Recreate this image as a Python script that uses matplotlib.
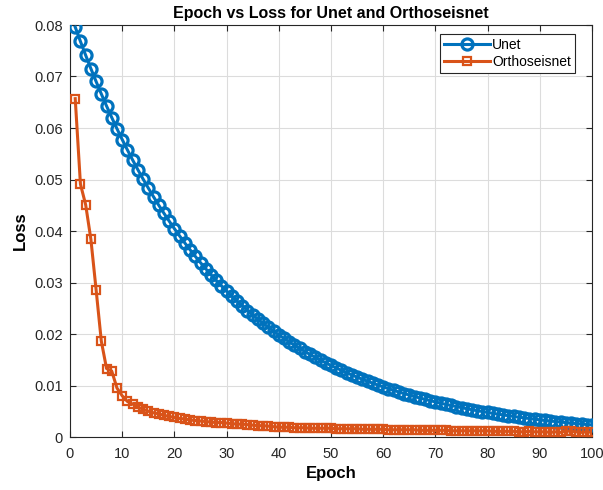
import numpy as np
import matplotlib
matplotlib.use("Agg")
import matplotlib.pyplot as plt

plt.rcParams['font.family'] = ['Liberation Sans', 'DejaVu Sans']

# training loss per epoch
epochs = list(range(1, 101))

unet_loss = [
    0.07960, 0.07681, 0.07413, 0.07153, 0.06903, 0.06661, 0.06428, 0.06203, 0.05986, 0.05776,
    0.05574, 0.05379, 0.05191, 0.05009, 0.04834, 0.04665, 0.04501, 0.04344, 0.04192, 0.04045,
    0.03904, 0.03767, 0.03635, 0.03508, 0.03385, 0.03267, 0.03152, 0.03042, 0.02935, 0.02833,
    0.02734, 0.02638, 0.02546, 0.02456, 0.02371, 0.02288, 0.02207, 0.02130, 0.02056, 0.01984,
    0.01914, 0.01847, 0.01783, 0.01720, 0.01660, 0.01602, 0.01546, 0.01492, 0.01440, 0.01389,
    0.01341, 0.01294, 0.01248, 0.01205, 0.01162, 0.01122, 0.01083, 0.01045, 0.01008, 0.00973,
    0.00939, 0.00906, 0.00874, 0.00844, 0.00814, 0.00786, 0.00758, 0.00732, 0.00706, 0.00681,
    0.00657, 0.00634, 0.00612, 0.00591, 0.00570, 0.00550, 0.00531, 0.00512, 0.00494, 0.00477,
    0.00460, 0.00444, 0.00429, 0.00414, 0.00399, 0.00385, 0.00372, 0.00359, 0.00346, 0.00334,
    0.00322, 0.00311, 0.00300, 0.00290, 0.00280, 0.00270, 0.00260, 0.00251, 0.00242, 0.00234,
]

ortho_loss = [
    0.0657, 0.0491, 0.0451, 0.0384, 0.0286, 0.0186, 0.0133, 0.0128, 0.0095, 0.0080,
    0.0069, 0.0064, 0.0058, 0.0054, 0.0050, 0.0047, 0.0045, 0.0042, 0.0040, 0.0038,
    0.0036, 0.0035, 0.0033, 0.0032, 0.0031, 0.0030, 0.0029, 0.0028, 0.0028, 0.0027,
    0.0026, 0.0025, 0.0025, 0.0024, 0.0023, 0.0022, 0.0022, 0.0021, 0.0020, 0.0019,
    0.0019, 0.0019, 0.0018, 0.0018, 0.0018, 0.0017, 0.0017, 0.0017, 0.0017, 0.0017,
    0.0016, 0.0016, 0.0016, 0.0016, 0.0016, 0.0015, 0.0015, 0.0015, 0.0015, 0.0015,
    0.0014, 0.0014, 0.0014, 0.0014, 0.0014, 0.0014, 0.0013, 0.0013, 0.0013, 0.0013,
    0.0013, 0.0013, 0.0012, 0.0012, 0.0012, 0.0012, 0.0012, 0.0012, 0.0012, 0.0012,
    0.0011, 0.0011, 0.0011, 0.0011, 0.0011, 0.0010, 0.0010, 0.0011, 0.0010, 0.0010,
    0.0010, 0.0009, 0.0010, 0.0009, 0.0012, 0.0011, 0.0010, 0.0009, 0.0010, 0.0009,
]

blue = "#0072BD"
orange = "#D95319"

fig = plt.figure(figsize=(6.03, 4.90), dpi=100)
ax = fig.add_axes([70 / 603, 1 - 437 / 490, 522 / 603, 412 / 490])

ax.plot(epochs, unet_loss, color=blue, lw=2.2, marker="o", markersize=8,
        markeredgewidth=2.3, markerfacecolor="none", label="Unet", zorder=3)
ax.plot(epochs, ortho_loss, color=orange, lw=2.2, marker="s", markersize=6,
        markeredgewidth=1.6, markerfacecolor="none", label="Orthoseisnet", zorder=3)

ax.set_xlim(0, 100)
ax.set_ylim(0, 0.08)
ax.set_xticks(np.arange(0, 101, 10))
ax.set_yticks(np.arange(0, 0.081, 0.01))
ax.set_yticklabels(["0", "0.01", "0.02", "0.03", "0.04", "0.05", "0.06", "0.07", "0.08"])

ax.grid(True, color="#dcdcdc", lw=0.8)
ax.set_axisbelow(True)
ax.tick_params(direction="in", length=4, width=0.8, labelsize=10.5,
               top=True, right=True, colors="#262626")
ax.tick_params(axis="x", pad=7)
ax.tick_params(axis="y", pad=5)
for s in ax.spines.values():
    s.set_color("#262626")
    s.set_linewidth(0.8)

ax.set_title("Epoch vs Loss for Unet and Orthoseisnet", fontsize=11.5,
             fontweight="bold", pad=5)
ax.set_xlabel("Epoch", fontsize=12, fontweight="bold", labelpad=4)
ax.set_ylabel("Loss", fontsize=12, fontweight="bold", labelpad=5)

leg = ax.legend(loc="upper right", fontsize=10, fancybox=False, framealpha=1,
                edgecolor="#262626", borderpad=0.3, handlelength=3.3,
                labelspacing=0.2, handletextpad=0.15, borderaxespad=0,
                bbox_to_anchor=(0.968, 0.978))
leg.get_frame().set_linewidth(0.8)

fig.savefig("out.png", dpi=100)
